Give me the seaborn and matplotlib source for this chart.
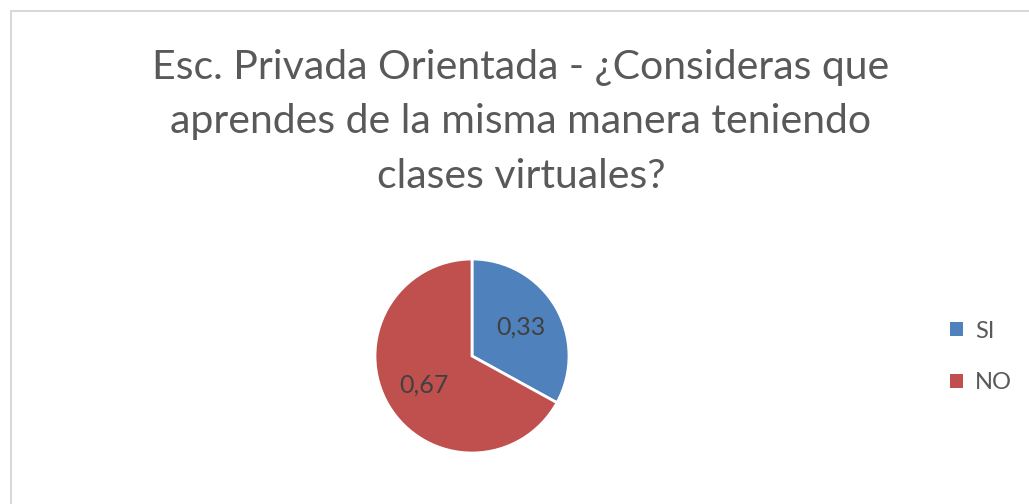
import matplotlib
matplotlib.use("Agg")
import matplotlib.pyplot as plt
import seaborn as sns
import numpy as np
from matplotlib.patches import Rectangle, Patch

categories = ["SI", "NO"]
values = [0.33, 0.67]
value_labels = ["0,33", "0,67"]
colors = ["#4F81BD", "#C0504D"]
title_lines = ["Esc. Privada Orientada - ¿Consideras que",
               "aprendes de la misma manera teniendo",
               "clases virtuales?"]

sns.set_theme(style="white")
plt.rcParams['font.family'] = ['Lato', 'DejaVu Sans']

W, H = 1029, 504
fig = plt.figure(figsize=(W / 100, H / 100), dpi=100)
fig.patch.set_facecolor("white")

# chart border
fig.patches.append(Rectangle((11 / W, -0.02), 1.05, 1 - 11 / H + 0.02,
                             transform=fig.transFigure, fill=False,
                             edgecolor="#D9D9D9", linewidth=1.5))

# title
for line, py in zip(title_lines, [68, 122, 177]):
    fig.text(521 / W, 1 - py / H, line, ha="center", va="center",
             fontsize=29.5, color="#595959")

# pie
cx, cy, r = 472, 356, 97
ax = fig.add_axes([(cx - r) / W, (H - cy - r) / H, 2 * r / W, 2 * r / H])
wedges, _ = ax.pie(values, colors=colors, startangle=90, counterclock=False,
                   wedgeprops=dict(edgecolor="white", linewidth=2))
for w, lab in zip(wedges, value_labels):
    ang = np.deg2rad((w.theta1 + w.theta2) / 2)
    ax.text(0.58 * np.cos(ang), 0.58 * np.sin(ang), lab, ha="center",
            va="center", fontsize=18, color="#404040")
ax.set_xlim(-1, 1)
ax.set_ylim(-1, 1)
ax.set_aspect("equal")
ax.axis("off")

# legend
handles = [Patch(facecolor=c, edgecolor="none") for c in colors]
fig.legend(handles, categories, loc="center left",
           bbox_to_anchor=(929 / W, 1 - 357 / H), frameon=False,
           fontsize=17, labelcolor="#595959", handlelength=0.55,
           handleheight=0.55, handletextpad=0.5, labelspacing=1.3)

fig.savefig("out.png", dpi=100)
